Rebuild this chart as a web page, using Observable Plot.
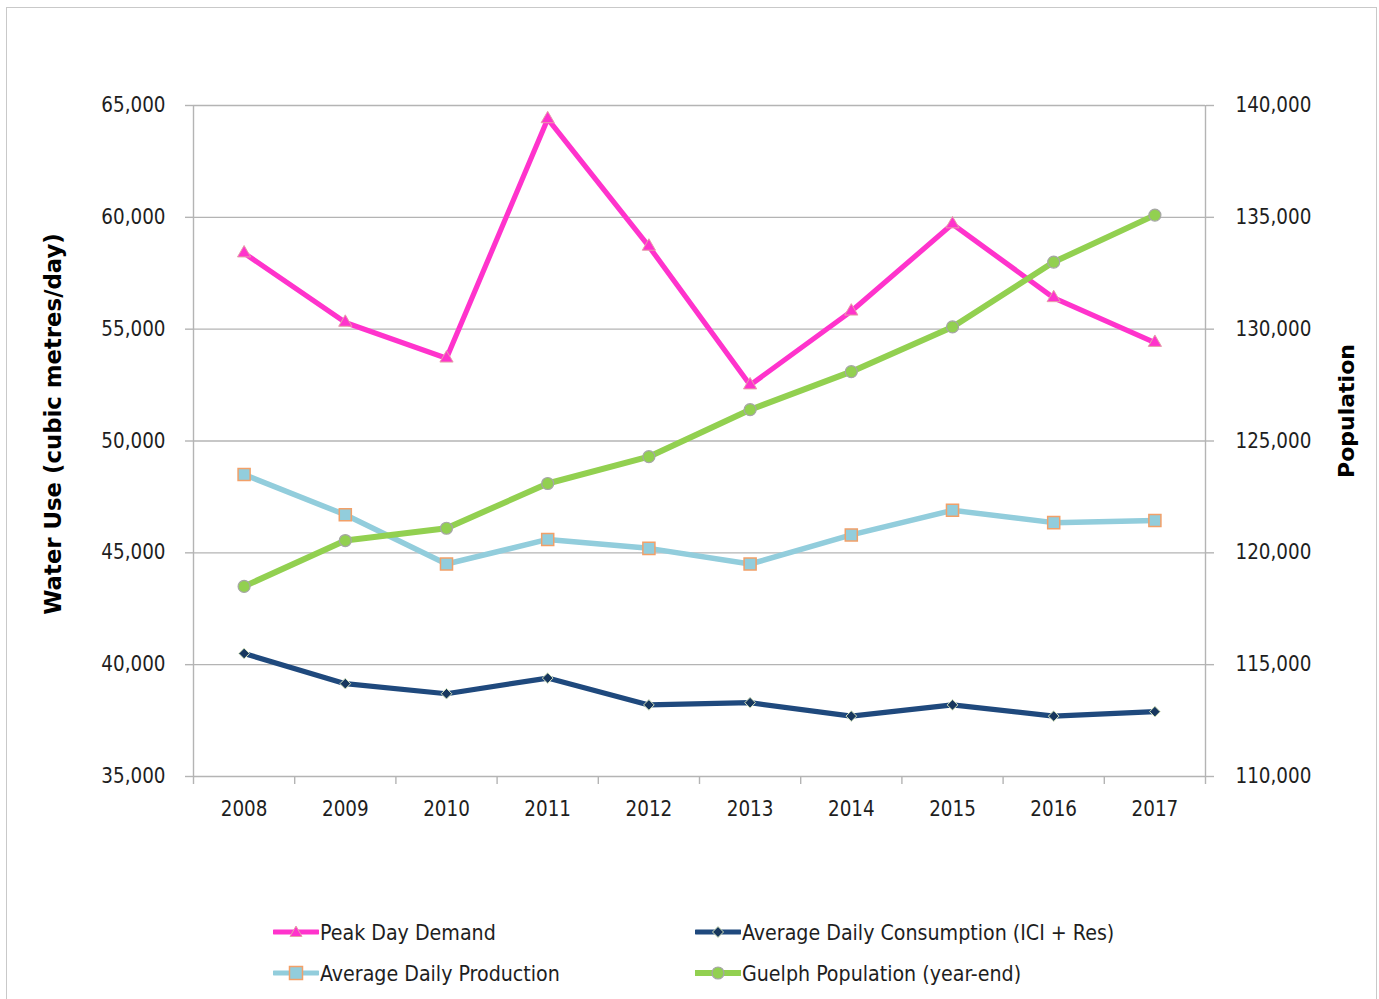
<!DOCTYPE html>
<html>
<head>
<meta charset="utf-8">
<script src="https://cdn.jsdelivr.net/npm/d3@7"></script>
<script src="https://cdn.jsdelivr.net/npm/@observablehq/plot@0.6"></script>
<style>
  body { margin: 0; background: #fff; }
  #frame { position: absolute; left: 6px; top: 7px; width: 1371px; height: 1000px; border: 1.5px solid #c9c9c9; box-sizing: border-box; }
  #chart { position: absolute; left: 0; top: 0; }
  .legend-item { position: absolute; display: flex; align-items: center; height: 24px;
    font-family: "DejaVu Sans Condensed", "Open Sans", sans-serif; font-size: 21.2px; color: #1e1e1e; white-space: nowrap; }
  .legend-item svg { display: block; margin-right: 1px; }
</style>
</head>
<body>
<div id="frame"></div>
<div id="chart"></div>
<div class="legend-item" style="left:273px; top:920px;">
  <svg width="46" height="24"><line x1="1" y1="12" x2="45" y2="12" stroke="#ff33cc" stroke-width="5" stroke-linecap="round"/><path d="M23,6 L29,16.5 L17,16.5 Z" fill="#ff33cc" stroke="#e6a0a8" stroke-width="1"/></svg>
  <span>Peak Day Demand</span>
</div>
<div class="legend-item" style="left:273px; top:961px;">
  <svg width="46" height="24"><line x1="1" y1="12" x2="45" y2="12" stroke="#92cddc" stroke-width="5" stroke-linecap="round"/><rect x="16.5" y="5.5" width="13" height="13" fill="#92cddc" stroke="#f2a068" stroke-width="1.5"/></svg>
  <span>Average Daily Production</span>
</div>
<div class="legend-item" style="left:695px; top:920px;">
  <svg width="46" height="24"><line x1="1" y1="12" x2="45" y2="12" stroke="#1f497d" stroke-width="5" stroke-linecap="round"/><path d="M23,6.5 L28.5,12 L23,17.5 L17.5,12 Z" fill="#17375e" stroke="#d7e4bd" stroke-width="1"/></svg>
  <span>Average Daily Consumption (ICI + Res)</span>
</div>
<div class="legend-item" style="left:695px; top:961px;">
  <svg width="46" height="24"><line x1="1" y1="12" x2="45" y2="12" stroke="#92d050" stroke-width="6" stroke-linecap="round"/><circle cx="23" cy="12" r="6" fill="#92d050" stroke="#a6a6a6" stroke-width="1.2"/></svg>
  <span>Guelph Population (year-end)</span>
</div>
<script>
// Guelph water use and population, 2008–2017
const years = [2008, 2009, 2010, 2011, 2012, 2013, 2014, 2015, 2016, 2017];
const peakDayDemand = [58400, 55300, 53700, 64400, 58700, 52500, 55800, 59700, 56400, 54400];
const avgDailyProduction = [48500, 46700, 44500, 45600, 45200, 44500, 45800, 46900, 46350, 46450];
const avgDailyConsumption = [40500, 39150, 38700, 39400, 38200, 38300, 37700, 38200, 37700, 37900];
const population = [118500, 120550, 121100, 123100, 124300, 126400, 128100, 130100, 133000, 135100];

// Tick values for the two vertical axes (water use on the left, population on the right)
const waterTicks = [35000, 40000, 45000, 50000, 55000, 60000, 65000];
const populationTicks = [110000, 115000, 120000, 125000, 130000, 135000, 140000];

// The population axis spans the same range as the water axis, shifted by a constant
const popOffset = populationTicks[0] - waterTicks[0];

const rows = years.map((year, i) => ({
  year,
  peak: peakDayDemand[i],
  production: avgDailyProduction[i],
  consumption: avgDailyConsumption[i],
  population: population[i],
  populationOnWaterScale: population[i] - popOffset
}));

// Category boundaries (between the years) carry the x-axis tick marks
const boundaries = years.map(y => y - 0.5).concat([years[years.length - 1] + 0.5]);

const fmt = d3.format(",");
const tickFont = `"DejaVu Sans Condensed", "Open Sans", sans-serif`;
const grid = "#b4b4b4";
const ink = "#1e1e1e";

const chart = Plot.plot({
  width: 1379,
  height: 860,
  marginLeft: 193,
  marginRight: 174,
  marginTop: 105,
  marginBottom: 84,
  style: { fontFamily: tickFont, fontSize: "20.4px", background: "transparent", overflow: "visible" },
  x: { type: "linear", domain: [boundaries[0], boundaries[boundaries.length - 1]], axis: null },
  y: { domain: [waterTicks[0], waterTicks[waterTicks.length - 1]], axis: null },
  marks: [
    // horizontal gridlines and the two vertical axis lines
    Plot.ruleY(waterTicks, { stroke: grid, strokeWidth: 1.4 }),
    Plot.ruleX([boundaries[0], boundaries[boundaries.length - 1]], { stroke: grid, strokeWidth: 1.4 }),

    // left axis: water use
    Plot.axisY(waterTicks, { anchor: "left", tickSize: 8, tickPadding: 20, tickFormat: fmt, stroke: grid, strokeWidth: 1.4, fill: ink, label: null }),
    // right axis: population
    Plot.axisY(waterTicks, { anchor: "right", tickSize: 8, tickPadding: 22, tickFormat: d => fmt(d + popOffset), stroke: grid, strokeWidth: 1.4, fill: ink, label: null }),
    // x axis: tick marks at category boundaries, year labels at category centres
    Plot.axisX(boundaries, { anchor: "bottom", tickSize: 8, tickFormat: () => "", stroke: grid, strokeWidth: 1.4, label: null }),
    Plot.axisX(years, { anchor: "bottom", tickSize: 0, tickPadding: 25, tickFormat: d => String(d), fill: ink, label: null }),

    // axis titles
    Plot.text(["Water Use (cubic metres/day)"], { frameAnchor: "left", textAnchor: "middle", lineAnchor: "middle", dx: -140, dy: -17, rotate: -90, fontFamily: "DejaVu Sans", fontWeight: "bold", fontSize: 22.8, fill: "#000" }),
    Plot.text(["Population"], { frameAnchor: "right", textAnchor: "middle", lineAnchor: "middle", dx: 141, dy: -30, rotate: -90, fontFamily: "DejaVu Sans", fontWeight: "bold", fontSize: 22, fill: "#000" }),

    // Average Daily Consumption (ICI + Res)
    Plot.line(rows, { x: "year", y: "consumption", stroke: "#1f497d", strokeWidth: 5.2, strokeLinejoin: "round" }),
    Plot.dot(rows, { x: "year", y: "consumption", symbol: "diamond2", r: 4.8, fill: "#17375e", stroke: "#d7e4bd", strokeWidth: 1 }),

    // Average Daily Production
    Plot.line(rows, { x: "year", y: "production", stroke: "#92cddc", strokeWidth: 5.5, strokeLinejoin: "round" }),
    Plot.dot(rows, { x: "year", y: "production", symbol: "square", r: 6.8, fill: "#92cddc", stroke: "#f2a068", strokeWidth: 1.5 }),

    // Peak Day Demand
    Plot.line(rows, { x: "year", y: "peak", stroke: "#ff33cc", strokeWidth: 5.2, strokeLinejoin: "round" }),
    Plot.dot(rows, { x: "year", y: "peak", symbol: "triangle", r: 4.9, fill: "#ff33cc", stroke: "#e6a0a8", strokeWidth: 1 }),

    // Guelph Population (year-end), read against the right axis
    Plot.line(rows, { x: "year", y: "populationOnWaterScale", stroke: "#92d050", strokeWidth: 6, strokeLinejoin: "round" }),
    Plot.dot(rows, { x: "year", y: "populationOnWaterScale", symbol: "circle", r: 6, fill: "#92d050", stroke: "#a6a6a6", strokeWidth: 1.2 })
  ]
});

document.getElementById("chart").appendChild(chart);
</script>
</body>
</html>
